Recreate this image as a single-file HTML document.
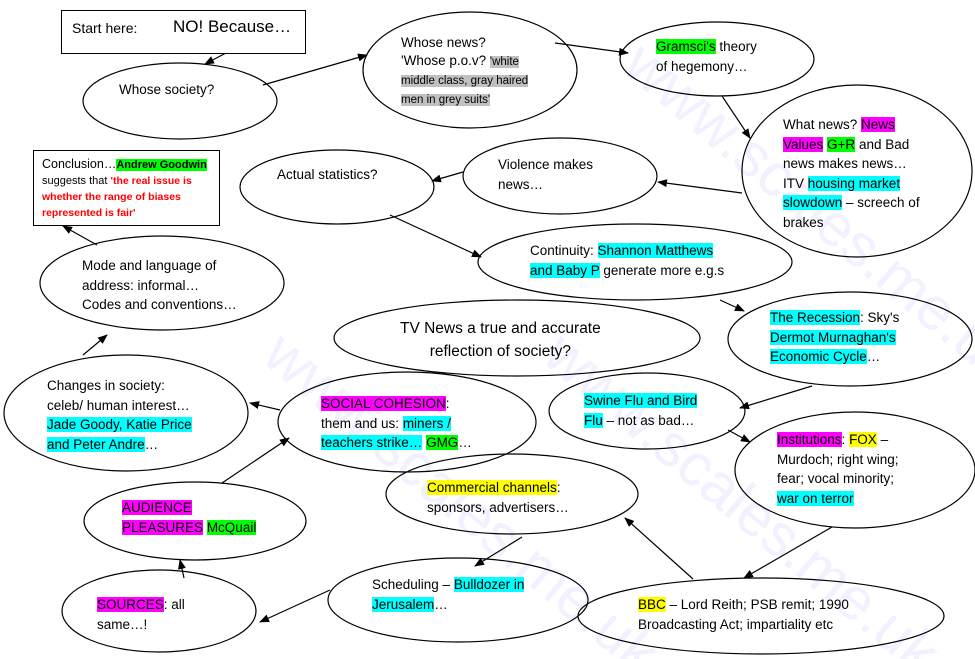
<!DOCTYPE html>
<html><head><meta charset="utf-8"><style>
body{margin:0;width:975px;height:659px;background:#fff;position:relative;overflow:hidden;font-family:"Liberation Sans",sans-serif;color:#000}
svg{position:absolute;left:0;top:0}
.t{position:absolute;font-size:13.5px;line-height:19.5px;white-space:nowrap}
.c{background:#00ffff}.g{background:#00ff00}.m{background:#ff00ff}.y{background:#ffff00}.gr{background:#c0c0c0}
.box{position:absolute;border:1.3px solid #000;background:#fff}
</style></head><body>
<svg width="975" height="659">
<defs><marker id="a" markerWidth="10" markerHeight="8" refX="9" refY="4" orient="auto" markerUnits="userSpaceOnUse"><path d="M0,0 L10,4 L0,8 z" fill="#000"/></marker></defs>
<text x="260" y="360" font-size="60" fill="#f1f1ff" font-family="Liberation Sans" transform="rotate(40 260 360)">www.scales.me.uk</text>
<text x="620" y="70" font-size="60" fill="#f1f1ff" font-family="Liberation Sans" transform="rotate(40 620 70)">www.scales.me.uk</text>
<text x="540" y="360" font-size="60" fill="#f1f1ff" font-family="Liberation Sans" transform="rotate(40 540 360)">www.scales.me.uk</text>
<g fill="none" stroke="#000" stroke-width="1.2">
<ellipse cx="180" cy="101" rx="97" ry="38"/>
<ellipse cx="470" cy="70" rx="107" ry="58"/>
<ellipse cx="717" cy="59" rx="97" ry="37"/>
<ellipse cx="857" cy="171" rx="115" ry="86"/>
<ellipse cx="560" cy="176" rx="97" ry="38"/>
<ellipse cx="337" cy="187" rx="97" ry="37"/>
<ellipse cx="635" cy="262" rx="157" ry="38"/>
<ellipse cx="162" cy="283" rx="122" ry="47"/>
<ellipse cx="517" cy="338" rx="183" ry="38"/>
<ellipse cx="850" cy="339" rx="122" ry="47"/>
<ellipse cx="126" cy="413" rx="122" ry="58"/>
<ellipse cx="407" cy="422" rx="129" ry="50"/>
<ellipse cx="647" cy="411" rx="98" ry="38"/>
<ellipse cx="855" cy="470" rx="120" ry="58"/>
<ellipse cx="512" cy="494" rx="126" ry="40"/>
<ellipse cx="195" cy="521" rx="111" ry="39"/>
<ellipse cx="159" cy="611" rx="97" ry="41"/>
<ellipse cx="458" cy="600" rx="130" ry="42"/>
<ellipse cx="761" cy="616" rx="183" ry="38"/>
</g>
<g stroke="#000" stroke-width="1.2" marker-end="url(#a)">
<line x1="226" y1="53" x2="205" y2="64"/>
<line x1="263" y1="85" x2="367" y2="55"/>
<line x1="555" y1="43" x2="628" y2="53"/>
<line x1="722" y1="96" x2="750" y2="138"/>
<line x1="742" y1="193" x2="658" y2="182"/>
<line x1="463" y1="172" x2="432" y2="181"/>
<line x1="390" y1="215" x2="481" y2="257"/>
<line x1="720" y1="300" x2="744" y2="311"/>
<line x1="812" y1="386" x2="740" y2="408"/>
<line x1="728" y1="430" x2="750" y2="442"/>
<line x1="832" y1="527" x2="744" y2="578"/>
<line x1="693" y1="579" x2="625" y2="518"/>
<line x1="522" y1="537" x2="475" y2="566"/>
<line x1="330" y1="590" x2="260" y2="622"/>
<line x1="184" y1="578" x2="180" y2="560"/>
<line x1="222" y1="483" x2="289" y2="438"/>
<line x1="280" y1="410" x2="250" y2="403"/>
<line x1="83" y1="355" x2="107" y2="335"/>
<line x1="97" y1="245" x2="63" y2="226"/>
</g>
</svg>
<div class="box" style="left:61px;top:10px;width:243px;height:42px"></div>
<div class="t" style="left:72px;top:19px;font-size:14px">Start here:</div>
<div class="t" style="left:173px;top:17px;font-size:17px">NO! Because…</div>
<div class="box" style="left:33px;top:150px;width:185px;height:74px"></div>
<div class="t" style="left:42px;top:157px;font-size:12.5px;line-height:15px">Conclusion…<span class="g" style="font-weight:bold;font-size:11px">Andrew Goodwin</span><br><span style="font-size:11px">suggests that </span><span style="color:#f00;font-weight:bold;font-size:10.5px">'the real issue is<br>whether the range of biases<br>represented is fair'</span></div>
<div class="t" style="left:119px;top:80px">Whose society?</div>
<div class="t" style="left:401px;top:34px;line-height:18px">Whose news?<br>'Whose p.o.v? <span class="gr" style="font-size:11.5px">'white</span><br><span class="gr" style="font-size:11.5px">middle class, gray haired</span><br><span class="gr" style="font-size:11.5px">men in grey suits'</span></div>
<div class="t" style="left:656px;top:37px"><span class="g">Gramsci's</span> theory<br>of hegemony…</div>
<div class="t" style="left:783px;top:115px">What news? <span class="m">News</span><br><span class="m">Values</span> <span class="g">G+R</span> and Bad<br>news makes news…<br>ITV <span class="c">housing market</span><br><span class="c">slowdown</span> – screech of<br>brakes</div>
<div class="t" style="left:498px;top:155px">Violence makes<br>news…</div>
<div class="t" style="left:277px;top:165px">Actual statistics?</div>
<div class="t" style="left:530px;top:241px">Continuity: <span class="c">Shannon Matthews</span><br><span class="c">and Baby P</span> generate more e.g.s</div>
<div class="t" style="left:82px;top:256px">Mode and language of<br>address: informal…<br>Codes and conventions…</div>
<div class="t" style="left:400px;top:317px;font-size:15.5px;line-height:23px;text-align:center">TV News a true and accurate<br>reflection of society?</div>
<div class="t" style="left:770px;top:308px"><span class="c">The Recession</span>: Sky's<br><span class="c">Dermot Murnaghan's</span><br><span class="c">Economic Cycle</span>…</div>
<div class="t" style="left:47px;top:376px">Changes in society:<br>celeb/ human interest…<br><span class="c">Jade Goody, Katie Price</span><br><span class="c">and Peter Andre</span>…</div>
<div class="t" style="left:321px;top:394px"><span class="m">SOCIAL COHESION</span>:<br>them and us: <span class="c">miners /</span><br><span class="c">teachers strike…</span> <span class="g">GMG</span>…</div>
<div class="t" style="left:584px;top:391px"><span class="c">Swine Flu and Bird</span><br><span class="c">Flu</span> – not as bad…</div>
<div class="t" style="left:777px;top:430px"><span class="m">Institutions</span>: <span class="y">FOX</span> –<br>Murdoch; right wing;<br>fear; vocal minority;<br><span class="c">war on terror</span></div>
<div class="t" style="left:427px;top:478px"><span class="y">Commercial channels</span>:<br>sponsors, advertisers…</div>
<div class="t" style="left:122px;top:498px"><span class="m">AUDIENCE</span><br><span class="m">PLEASURES</span> <span class="g">McQuail</span></div>
<div class="t" style="left:97px;top:595px"><span class="m">SOURCES</span>: all<br>same…!</div>
<div class="t" style="left:372px;top:575px">Scheduling – <span class="c">Bulldozer in</span><br><span class="c">Jerusalem</span>…</div>
<div class="t" style="left:638px;top:595px"><span class="y">BBC</span> – Lord Reith; PSB remit; 1990<br>Broadcasting Act; impartiality etc</div>
</body></html>
